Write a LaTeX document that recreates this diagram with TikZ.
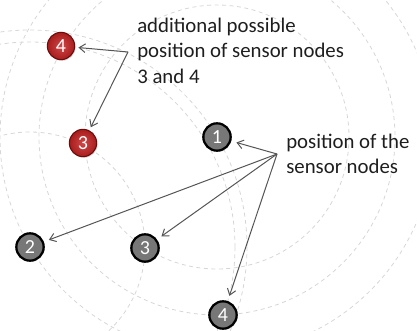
\documentclass[tikz,border=0pt]{standalone}
\usepackage{fontspec}
\setmainfont{Carlito}
\usetikzlibrary{arrows.meta,shadows}
\definecolor{ringgrey}{HTML}{D6D6D6}
\definecolor{pointergrey}{HTML}{555555}
\definecolor{nodegrey}{HTML}{777777}
\definecolor{altred}{HTML}{A81C1C}
\definecolor{altredlight}{HTML}{D04848}
\definecolor{altredrim}{HTML}{6A0C0C}
\definecolor{notecolor}{HTML}{1E1E1E}
\begin{document}
\begin{tikzpicture}[x=0.75pt,y=-0.75pt,
  rangering/.style={draw=ringgrey,line width=0.6pt,dash pattern=on 3pt off 2.6pt},
  sensor/.style={circle,minimum size=20.5pt,inner sep=0pt,text=white,
    font=\fontsize{15}{15}\selectfont},
  anchornode/.style={sensor,fill=nodegrey,draw=black,line width=1.7pt,
    drop shadow={shadow xshift=0.7pt,shadow yshift=-0.9pt,opacity=0.3}},
  altnode/.style={sensor,shading=radial,inner color=altredlight,outer color=altred,
    draw=altredrim,line width=0.8pt,
    drop shadow={shadow xshift=0.7pt,shadow yshift=-0.9pt,opacity=0.3}},
  pointer/.style={draw=pointergrey,line width=0.75pt,
    -{Straight Barb[length=4.5pt,width=6.5pt]}},
  notetext/.style={font=\fontsize{15.6}{19.2}\selectfont,text=notecolor,
    align=left,inner sep=0pt,anchor=north west}
]
\useasboundingbox (0,0) rectangle (417,331);

% sensor positions
\coordinate (c1) at (217,137);
\coordinate (c2) at (30,247);
\coordinate (c3) at (145,248);
\coordinate (c4) at (223,315);
\coordinate (a3) at (83,143);
\coordinate (a4) at (61,46);

% range circles around the two reference sensors
\begin{scope}
  \clip (0,0) rectangle (417,331);
  \draw[rangering] (c1) circle[radius=132];
  \draw[rangering] (c1) circle[radius=178];
  \draw[rangering] (c1) circle[radius=217];
  \draw[rangering] (c2) circle[radius=115];
  \draw[rangering] (c2) circle[radius=205];
  \draw[rangering] (c2) circle[radius=217];
\end{scope}

% sensor nodes
\node[anchornode] (s1) at (c1) {1};
\node[anchornode] (s2) at (c2) {2};
\node[anchornode] (s3) at (c3) {3};
\node[anchornode] (s4) at (c4) {4};
\node[altnode] (t3) at (a3) {3};
\node[altnode] (t4) at (a4) {4};

% annotations
\node[notetext] (altnote) at (137,17.5) {additional possible\\position of sensor nodes\\3 and 4};
\node[notetext] (posnote) at (286,133.5) {position of the\\sensor nodes};

\coordinate (althub) at (128,52);
\coordinate (poshub) at (277,154);

\draw[pointer,shorten >=2.5pt] (althub) -- (t4);
\draw[pointer,shorten >=2.5pt] (althub) -- (t3);
\draw[pointer,shorten >=4pt] (poshub) -- (s1);
\draw[pointer,shorten >=4pt] (poshub) -- (s2);
\draw[pointer,shorten >=4pt] (poshub) -- (s3);
\draw[pointer,shorten >=4pt] (poshub) -- (s4);
\end{tikzpicture}
\end{document}
